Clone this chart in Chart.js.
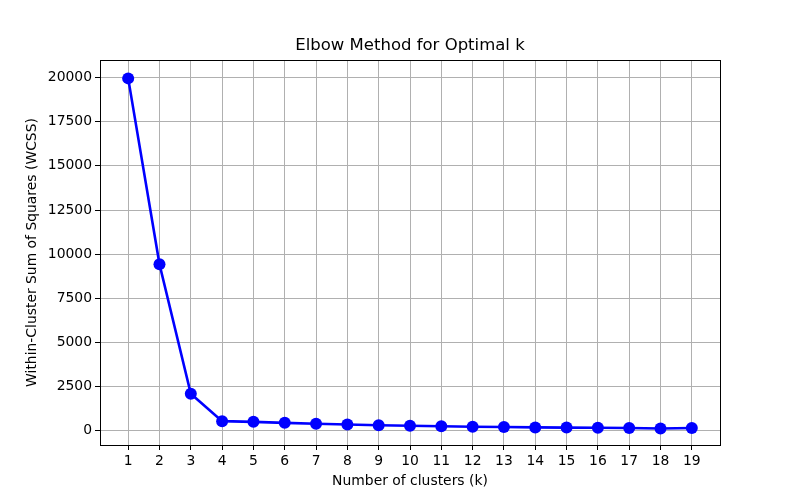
<!DOCTYPE html>
<html>
<head>
<meta charset="utf-8">
<script src="https://cdn.jsdelivr.net/npm/chart.js@4.4.1/dist/chart.umd.min.js"></script>
<style>
  html, body { margin: 0; padding: 0; background: #fff; }
  canvas { display: block; }
</style>
</head>
<body>
<canvas id="elbow" width="800" height="500"></canvas>
<script>
// number of clusters tried
const kValues = [1, 2, 3, 4, 5, 6, 7, 8, 9, 10, 11, 12, 13, 14, 15, 16, 17, 18, 19];
// WCSS
const wcss = [19950, 9430, 2100, 550, 510, 455, 400, 360, 320, 290, 265, 230, 220, 195, 185, 175, 165, 130, 160];
const yTickValues = [0, 2500, 5000, 7500, 10000, 12500, 15000, 17500, 20000];
const chartTitle = 'Elbow Method for Optimal k';

const FONT = 'DejaVu Sans, sans-serif';

// matplotlib style frame round the axes, title centred over the plot area
const frameBox = {
    id: 'frameBox',
    afterDraw(chart) {
        const a = chart.chartArea;
        const ctx = chart.ctx;
        ctx.save();
        ctx.strokeStyle = '#000';
        ctx.lineWidth = 1;
        ctx.strokeRect(a.left + 0.5, a.top + 0.5, a.right - a.left, a.bottom - a.top);
        ctx.fillStyle = '#000';
        ctx.font = '16.5px ' + FONT;
        ctx.textAlign = 'center';
        ctx.textBaseline = 'middle';
        ctx.fillText(chartTitle, (a.left + a.right) / 2, 46);
        ctx.restore();
    }
};

new Chart(document.getElementById('elbow'), {
    type: 'line',
    data: {
        datasets: [{
            data: kValues.map((k, i) => ({ x: k, y: wcss[i] })),
            borderColor: '#0000ff',
            backgroundColor: '#0000ff',
            borderWidth: 2.6,
            pointRadius: 6,
            pointBorderWidth: 0,
            pointBackgroundColor: '#0000ff',
            tension: 0
        }]
    },
    options: {
        responsive: false,
        animation: false,
        layout: { padding: { left: 0, right: 80, top: 60, bottom: 0 } },
        plugins: {
            legend: { display: false },
            tooltip: { enabled: false },
            title: { display: false }
        },
        scales: {
            x: {
                type: 'linear',
                min: 0.1,
                max: 19.9,
                afterBuildTicks: s => { s.ticks = kValues.map(v => ({ value: v })); },
                afterFit: s => { s.height = 55; },
                grid: { color: '#b0b0b0', lineWidth: 1, tickColor: '#000', tickLength: 5 },
                border: { display: false },
                ticks: {
                    color: '#000',
                    padding: 3,
                    maxRotation: 0,
                    autoSkip: false,
                    font: { family: FONT, size: 13.9 },
                    callback: v => String(v)
                },
                title: {
                    display: true,
                    text: 'Number of clusters (k)',
                    color: '#000',
                    font: { family: FONT, size: 13.9 },
                    padding: { top: 0, bottom: 10 }
                }
            },
            y: {
                type: 'linear',
                min: -800,
                max: 20990,
                afterBuildTicks: s => { s.ticks = yTickValues.map(v => ({ value: v })); },
                afterFit: s => { s.width = 100; },
                grid: { color: '#b0b0b0', lineWidth: 1, tickColor: '#000', tickLength: 5 },
                border: { display: false },
                ticks: {
                    color: '#000',
                    padding: 3,
                    autoSkip: false,
                    font: { family: FONT, size: 13.9 },
                    callback: v => String(v)
                },
                title: {
                    display: true,
                    text: 'Within-Cluster Sum of Squares (WCSS)',
                    color: '#000',
                    font: { family: FONT, size: 13.9 },
                    padding: { top: 23.6, bottom: 0 }
                }
            }
        }
    },
    plugins: [frameBox]
});
</script>
</body>
</html>
